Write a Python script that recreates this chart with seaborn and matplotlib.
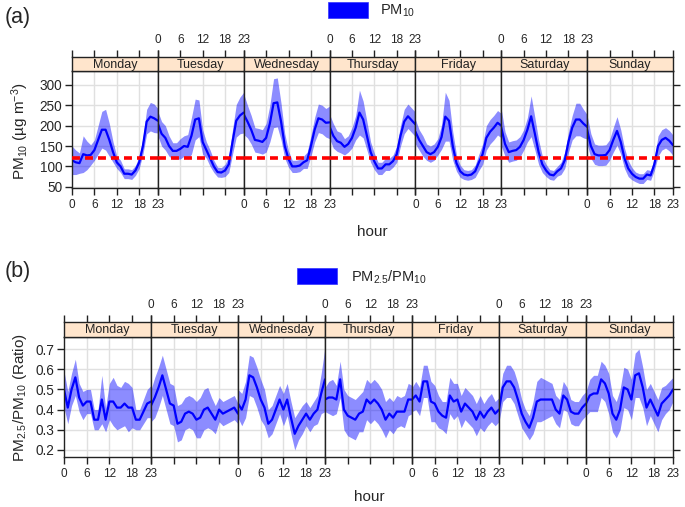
import numpy as np
import pandas as pd
import seaborn as sns
import matplotlib.pyplot as plt
from matplotlib.patches import Rectangle

days = ["Monday", "Tuesday", "Wednesday", "Thursday", "Friday", "Saturday", "Sunday"]
hours = list(range(24))
hour_ticks = [0, 6, 12, 18, 23]

# PM10 hourly mean, Monday..Sunday (24 values each)
pm10_mean = [
    115, 110, 108, 130, 127, 128, 140, 165, 190, 190, 165, 135, 110, 100, 82, 82, 80, 90, 110, 150, 210, 222, 218, 212,
    205, 180, 170, 150, 138, 138, 143, 150, 148, 175, 215, 218, 160, 140, 120, 100, 86, 85, 90, 105, 160, 212, 225, 232,
    228, 210, 190, 165, 163, 160, 170, 205, 255, 257, 210, 150, 118, 100, 100, 102, 110, 115, 150, 190, 218, 215, 207, 208,
    198, 175, 162, 158, 148, 155, 170, 195, 232, 215, 175, 135, 112, 95, 95, 105, 105, 113, 130, 175, 210, 223, 213, 203,
    185, 165, 150, 135, 130, 135, 148, 172, 222, 212, 150, 108, 88, 80, 78, 80, 88, 110, 130, 170, 185, 195, 207, 200,
    195, 155, 135, 138, 140, 148, 165, 190, 223, 180, 135, 105, 90, 80, 78, 88, 95, 115, 160, 195, 215, 215, 205, 197,
    190, 150, 130, 127, 127, 128, 140, 165, 187, 160, 120, 95, 82, 74, 70, 70, 80, 78, 105, 150, 165, 170, 163, 152,
]
pm10_ci = [
    35, 30, 25, 45, 35, 25, 25, 35, 45, 50, 40, 25, 15, 15, 12, 12, 12, 12, 15, 20, 30, 35, 35, 30,
    30, 30, 30, 25, 20, 20, 25, 25, 30, 45, 50, 45, 30, 20, 20, 15, 12, 12, 15, 20, 30, 40, 45, 50,
    50, 40, 35, 30, 30, 30, 35, 45, 60, 60, 45, 30, 20, 15, 15, 15, 15, 20, 25, 30, 35, 35, 35, 40,
    30, 30, 25, 25, 20, 20, 25, 30, 55, 45, 35, 25, 20, 15, 15, 15, 15, 15, 20, 25, 30, 30, 30, 30,
    30, 25, 25, 20, 20, 20, 20, 30, 60, 50, 35, 20, 15, 12, 12, 12, 15, 20, 25, 30, 30, 30, 30, 30,
    45, 30, 25, 25, 25, 25, 25, 30, 50, 40, 30, 20, 15, 12, 12, 12, 15, 20, 25, 30, 40, 40, 35, 30,
    35, 30, 25, 25, 25, 25, 25, 30, 35, 30, 25, 20, 15, 12, 12, 12, 12, 12, 15, 25, 25, 25, 25, 25,
]
pm10_limit = 120

# PM2.5/PM10 ratio hourly mean
ratio_mean = [
    0.50, 0.41, 0.50, 0.56, 0.46, 0.42, 0.44, 0.44, 0.35, 0.35, 0.45, 0.35, 0.44, 0.44, 0.41, 0.41, 0.43, 0.41, 0.41, 0.35, 0.35, 0.39, 0.43, 0.44,
    0.42, 0.46, 0.51, 0.57, 0.50, 0.43, 0.42, 0.33, 0.34, 0.38, 0.39, 0.38, 0.35, 0.36, 0.40, 0.41, 0.38, 0.35, 0.40, 0.38, 0.39, 0.40, 0.41, 0.38,
    0.43, 0.40, 0.45, 0.57, 0.56, 0.51, 0.45, 0.41, 0.33, 0.35, 0.40, 0.45, 0.40, 0.45, 0.36, 0.28, 0.32, 0.35, 0.38, 0.35, 0.38, 0.40, 0.48, 0.55,
    0.45, 0.46, 0.46, 0.45, 0.55, 0.40, 0.37, 0.36, 0.35, 0.38, 0.39, 0.45, 0.43, 0.45, 0.43, 0.40, 0.35, 0.38, 0.36, 0.39, 0.39, 0.39, 0.45, 0.45,
    0.45, 0.47, 0.44, 0.54, 0.54, 0.44, 0.43, 0.39, 0.37, 0.36, 0.47, 0.44, 0.45, 0.39, 0.43, 0.41, 0.39, 0.35, 0.39, 0.36, 0.39, 0.41, 0.38, 0.40,
    0.40, 0.51, 0.54, 0.54, 0.51, 0.45, 0.38, 0.34, 0.31, 0.36, 0.44, 0.45, 0.45, 0.45, 0.45, 0.40, 0.38, 0.47, 0.45, 0.39, 0.38, 0.38, 0.41, 0.43,
    0.43, 0.47, 0.48, 0.48, 0.55, 0.53, 0.48, 0.38, 0.35, 0.40, 0.51, 0.50, 0.45, 0.57, 0.58, 0.51, 0.41, 0.45, 0.41, 0.37, 0.43, 0.45, 0.47, 0.50,
]
ratio_ci = [
    0.09, 0.08, 0.08, 0.09, 0.07, 0.07, 0.06, 0.06, 0.05, 0.05, 0.12, 0.06, 0.09, 0.12, 0.11, 0.10, 0.11, 0.12, 0.10, 0.05, 0.05, 0.06, 0.07, 0.08,
    0.08, 0.10, 0.10, 0.10, 0.10, 0.10, 0.10, 0.09, 0.09, 0.08, 0.08, 0.08, 0.09, 0.10, 0.10, 0.10, 0.08, 0.07, 0.06, 0.06, 0.06, 0.06, 0.06, 0.05,
    0.07, 0.08, 0.09, 0.10, 0.10, 0.10, 0.10, 0.09, 0.07, 0.07, 0.07, 0.07, 0.08, 0.08, 0.08, 0.08, 0.07, 0.07, 0.06, 0.06, 0.06, 0.07, 0.10, 0.16,
    0.06, 0.08, 0.09, 0.07, 0.09, 0.10, 0.10, 0.10, 0.10, 0.09, 0.10, 0.10, 0.10, 0.10, 0.10, 0.10, 0.09, 0.08, 0.08, 0.08, 0.07, 0.08, 0.08, 0.07,
    0.06, 0.07, 0.07, 0.08, 0.08, 0.10, 0.09, 0.08, 0.07, 0.08, 0.09, 0.09, 0.08, 0.08, 0.08, 0.08, 0.08, 0.08, 0.08, 0.07, 0.07, 0.07, 0.06, 0.06,
    0.06, 0.07, 0.08, 0.08, 0.08, 0.08, 0.07, 0.06, 0.06, 0.08, 0.10, 0.11, 0.10, 0.09, 0.08, 0.07, 0.07, 0.07, 0.06, 0.06, 0.06, 0.06, 0.06, 0.06,
    0.06, 0.08, 0.09, 0.09, 0.09, 0.09, 0.10, 0.09, 0.09, 0.10, 0.10, 0.10, 0.10, 0.11, 0.12, 0.10, 0.09, 0.08, 0.08, 0.08, 0.08, 0.07, 0.07, 0.06,
]


def make_df(mean, ci):
    df = pd.DataFrame({
        "day": np.repeat(days, 24),
        "hour": hours * 7,
        "value": mean,
    })
    df["lo"] = df["value"] - np.array(ci)
    df["hi"] = df["value"] + np.array(ci)
    return df


pm10 = make_df(pm10_mean, pm10_ci)
ratio = make_df(ratio_mean, ratio_ci)

sns.set_theme(style="white")
plt.rcParams['font.family'] = ['Liberation Sans', 'DejaVu Sans']
plt.rcParams['mathtext.fontset'] = 'custom'
plt.rcParams['mathtext.rm'] = 'Liberation Sans'
plt.rcParams['mathtext.it'] = 'Liberation Sans:italic'

W, H = 685, 507
fig = plt.figure(figsize=(W / 100, H / 100), dpi=100)
edge = "#222222"
tick_fs = 8.5
ytick_fs = 9.8


def box(x0, x1, y0, y1):
    return [x0 / W, 1 - y1 / H, (x1 - x0) / W, (y1 - y0) / H]


def draw_panel(df, x0, x1, ys, y0, y1, ylim, yticks, ylabels, limit=None):
    dw = (x1 - x0) / 7
    for i, day in enumerate(days):
        d = df[df.day == day]
        ax = fig.add_axes(box(x0 + i * dw, x0 + (i + 1) * dw, y0, y1))
        for y in yticks:
            ax.axhline(y, color="#e0e0e0", lw=1, zorder=0)
        for x in [6, 12, 18]:
            ax.axvline(x, color="#e0e0e0", lw=1, zorder=0)
        ax.fill_between(d["hour"], d["lo"], d["hi"], color="#0000ff", alpha=0.45, lw=0, zorder=1)
        if limit is not None:
            ax.axhline(limit, color="red", lw=2.6, ls=(0, (2.2, 1.4)), zorder=3)
        sns.lineplot(data=d, x="hour", y="value", ax=ax, color="#0000ff", lw=1.6, errorbar=None, zorder=2)
        ax.set_xlim(0, 23)
        ax.set_ylim(*ylim)
        ax.set_xlabel("")
        ax.set_ylabel("")
        ax.set_xticks(hour_ticks)
        ax.set_xticklabels([str(h) for h in hour_ticks] if i % 2 == 0 else [])
        ax.tick_params(axis="x", direction="out", length=5, width=1, color=edge,
                       labelsize=tick_fs, pad=3, bottom=True, top=False)
        ax.set_yticks(yticks)
        if i == 0:
            ax.set_yticklabels(ylabels)
            ax.tick_params(axis="y", direction="out", length=5, width=1, color=edge,
                           labelsize=ytick_fs, pad=2, left=True, right=False)
        elif i == 6:
            ax.yaxis.tick_right()
            ax.set_yticklabels([])
            ax.tick_params(axis="y", direction="out", length=5, width=1, color=edge,
                           left=False, right=True)
        else:
            ax.set_yticklabels([])
            ax.tick_params(axis="y", left=False, right=False)
        for s in ax.spines.values():
            s.set_color(edge)
            s.set_linewidth(1)

        st = fig.add_axes(box(x0 + i * dw, x0 + (i + 1) * dw, ys, y0))
        st.set_facecolor("#ffe5cc")
        st.set_xlim(0, 23)
        st.set_ylim(0, 1)
        st.text(11.5, 0.45, day, ha="center", va="center", fontsize=9, color="#222222")
        st.xaxis.tick_top()
        st.set_xticks(hour_ticks)
        st.set_xticklabels([str(h) for h in hour_ticks] if i % 2 == 1 else [])
        st.tick_params(axis="x", direction="out", length=5, width=1, color=edge,
                       labelsize=tick_fs, pad=3, top=True, bottom=False)
        st.set_yticks([])
        for s in st.spines.values():
            s.set_color(edge)
            s.set_linewidth(1)


# panel (a)
draw_panel(pm10, 72, 673, 57, 71, 188, (47, 334),
           [50, 100, 150, 200, 250, 300], ["50", "100", "150", "200", "250", "300"],
           limit=pm10_limit)
fig.text(5 / W, 1 - 18 / H, "(a)", fontsize=15.5, va="center", ha="left")
fig.patches.append(Rectangle((328 / W, 1 - 18 / H), 40 / W, 16 / H, transform=fig.transFigure,
                             facecolor="#0000ff", edgecolor="#3333ff", lw=0.5))
fig.text(380 / W, 1 - 11 / H, "PM$_{10}$", fontsize=10.5, va="center", ha="left")
fig.text(372 / W, 1 - 232 / H, "hour", fontsize=11, va="center", ha="center")
fig.text(20 / W, 1 - 131 / H, "PM$_{10}$ (µg m$^{-3}$)", fontsize=11, va="center", ha="center",
         rotation=90)

# panel (b)
draw_panel(ratio, 64, 673, 322, 337, 457, (0.165, 0.76),
           [0.2, 0.3, 0.4, 0.5, 0.6, 0.7], ["0.2", "0.3", "0.4", "0.5", "0.6", "0.7"])
fig.text(5 / W, 1 - 272 / H, "(b)", fontsize=15.5, va="center", ha="left")
fig.patches.append(Rectangle((297 / W, 1 - 284 / H), 40 / W, 16 / H, transform=fig.transFigure,
                             facecolor="#0000ff", edgecolor="#3333ff", lw=0.5))
fig.text(351 / W, 1 - 277 / H, "PM$_{2.5}$/PM$_{10}$", fontsize=10.5, va="center", ha="left")
fig.text(369 / W, 1 - 497 / H, "hour", fontsize=11, va="center", ha="center")
fig.text(20 / W, 1 - 398 / H, "PM$_{2.5}$/PM$_{10}$ (Ratio)", fontsize=11, va="center", ha="center",
         rotation=90)

fig.savefig("out.png", dpi=100)
